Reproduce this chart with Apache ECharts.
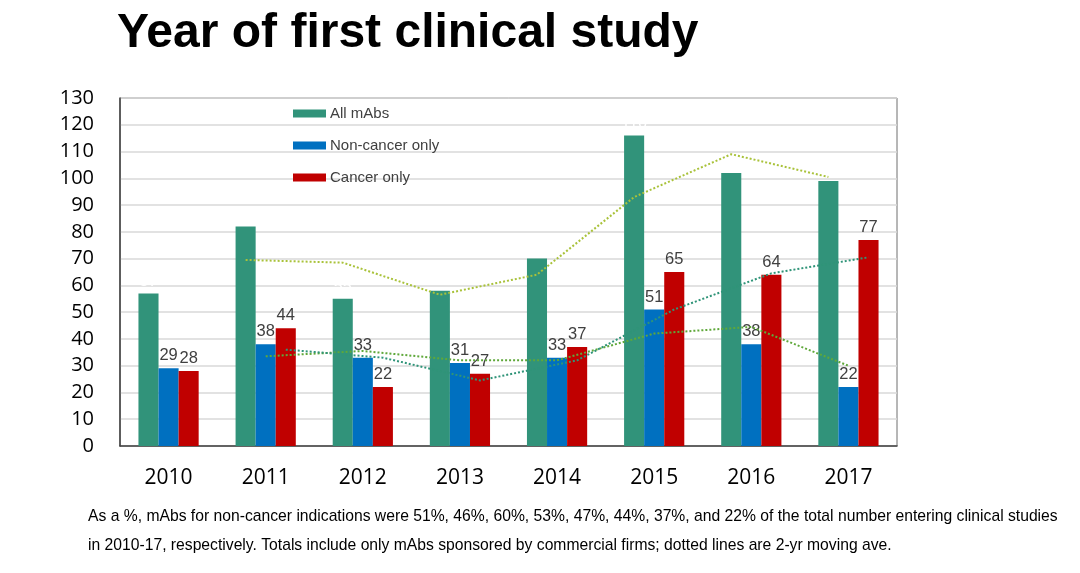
<!DOCTYPE html>
<html>
<head>
<meta charset="utf-8">
<script src="https://cdn.jsdelivr.net/npm/echarts@6/dist/echarts.min.js"></script>
<style>
html,body{margin:0;padding:0;background:#fff;}
#chart{width:1080px;height:573px;}
</style>
</head>
<body>
<div id="chart"></div>
<script>
var years = ['2010','2011','2012','2013','2014','2015','2016','2017'];
var allMabs = [57, 82, 55, 58, 70, 116, 102, 99];
var nonCancer = [29, 38, 33, 31, 33, 51, 38, 22];
var cancer = [28, 44, 22, 27, 37, 65, 64, 77];
// 2-yr moving averages (2011-2017)
var allMabsMA = [69.5, 68.5, 56.5, 64, 93, 109, 100.5];
var nonCancerMA = [33.5, 35.5, 32, 32, 42, 44.5, 30];
var cancerMA = [36, 33, 24.5, 32, 51, 64.5, 70.5];
var yTicks = [0, 130, 10];

var catGap = 0.38;
var barFrac = (1 - catGap) / 3;
function pts(arr, off) {
  return arr.map(function (v, i) { return [i + 1 + off, v]; });
}

var chart = echarts.init(document.getElementById('chart'));
var numLabel = { show: true, position: 'top', distance: 4, color: '#404040', fontSize: 16.5, fontFamily: 'Liberation Sans, Arial' };
chart.setOption({
  animation: false,
  title: {
    text: 'Year of first clinical study',
    left: 117, top: 10, padding: 0,
    textStyle: { fontSize: 48, fontWeight: 'bold', color: '#000', fontFamily: 'Liberation Sans, Arial' }
  },
  legend: {
    orient: 'vertical', left: 293, top: 106, padding: 0,
    itemWidth: 33, itemHeight: 8, itemGap: 17, icon: 'rect',
    data: ['All mAbs', 'Non-cancer only', 'Cancer only'],
    textStyle: { fontSize: 15, color: '#404040', fontFamily: 'Liberation Sans, Arial', padding: [0, 0, 0, -1] }
  },
  grid: { left: 120, right: 183, top: 98, bottom: 127, show: true, borderColor: '#6f6f6f', borderWidth: 1 },
  xAxis: [{
    type: 'category', data: years,
    axisLine: { lineStyle: { color: '#404040', width: 1.5 } },
    axisTick: { show: false },
    axisLabel: { fontSize: 21, color: '#000', margin: 22, fontFamily: 'Open Sans' }
  }, {
    type: 'value', min: -0.5, max: 7.5, show: false
  }],
  yAxis: {
    type: 'value', min: yTicks[0], max: yTicks[1], interval: yTicks[2],
    axisLine: { show: true, onZero: false, lineStyle: { color: '#404040', width: 1.5 } },
    axisTick: { show: false },
    splitLine: { lineStyle: { color: '#d9d9d9', width: 1.5 } },
    axisLabel: { fontSize: 20, color: '#000', margin: 26, fontFamily: 'Open Sans' }
  },
  series: [
    { name: 'All mAbs', type: 'bar', data: allMabs, barGap: 0, barCategoryGap: (catGap * 100) + '%',
      itemStyle: { color: '#31937a' },
      label: { show: true, position: 'top', distance: 4, color: '#fff', fontSize: 16 } },
    { name: 'Non-cancer only', type: 'bar', data: nonCancer, barGap: 0, barCategoryGap: (catGap * 100) + '%',
      itemStyle: { color: '#0070c0' }, label: numLabel },
    { name: 'Cancer only', type: 'bar', data: cancer, barGap: 0, barCategoryGap: (catGap * 100) + '%',
      itemStyle: { color: '#c00000' }, label: numLabel },
    { name: 'allMA', type: 'line', xAxisIndex: 1, data: pts(allMabsMA, -barFrac), symbol: 'none', z: 5,
      lineStyle: { color: '#a9c23a', width: 2, type: [2, 2] } },
    { name: 'nonMA', type: 'line', xAxisIndex: 1, data: pts(nonCancerMA, 0), symbol: 'none', z: 5,
      lineStyle: { color: '#5fa83a', width: 2, type: [2, 2] } },
    { name: 'canMA', type: 'line', xAxisIndex: 1, data: pts(cancerMA, barFrac), symbol: 'none', z: 5,
      lineStyle: { color: '#2f9478', width: 2, type: [2, 2] } }
  ],
  graphic: [
    { type: 'text', left: 88, top: 509, style: { text: 'As a %, mAbs for non-cancer indications were 51%, 46%, 60%, 53%, 47%, 44%, 37%, and 22% of the total number entering clinical studies', fontSize: 15.7, fill: '#000', fontFamily: 'Liberation Sans, Arial' } },
    { type: 'text', left: 88, top: 538, style: { text: 'in 2010-17, respectively. Totals include only mAbs sponsored by commercial firms; dotted lines are 2-yr moving ave.', fontSize: 15.7, fill: '#000', fontFamily: 'Liberation Sans, Arial' } }
  ]
});
</script>
</body>
</html>
